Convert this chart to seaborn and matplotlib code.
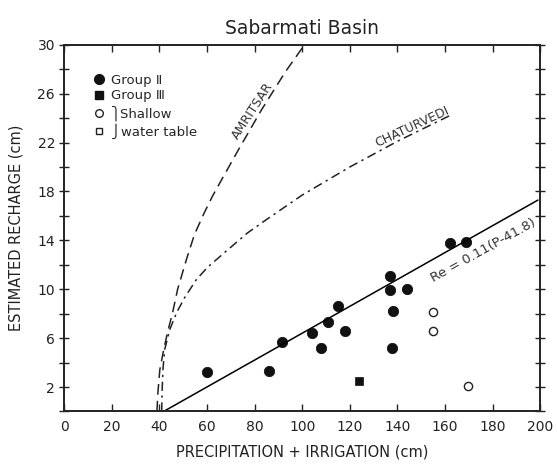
import numpy as np
import pandas as pd
import seaborn as sns
import matplotlib.pyplot as plt
from matplotlib.lines import Line2D

# ============================================================
# Data
# ============================================================

group2_x = [60, 86, 91.5, 104, 108, 111, 115, 118, 137, 136.8, 138, 137.7, 144, 162, 169]
group2_y = [3.2, 3.3, 5.7, 6.4, 5.2, 7.3, 8.6, 6.6, 11.1, 9.9, 8.2, 5.2, 10.0, 13.8, 13.9]

group3_x = [124]
group3_y = [2.5]

shallow_x = [155, 155, 169.5]
shallow_y = [8.1, 6.6, 2.1]

amritsar_x = [39.0, 39.4, 40.2, 41.8, 43.5, 45.6, 47.7, 51.5, 54.8, 59.0, 62.3, 66.0, 73.5, 83.0, 93.0, 101.0]
amritsar_y = [0.0, 1.5, 3.4, 5.0, 6.5, 8.1, 10.0, 12.5, 14.5, 16.3, 17.6, 18.9, 21.5, 24.7, 27.8, 30.0]

chaturvedi_x = [41.0, 41.2, 41.6, 42.3, 44.4, 47.3, 50.6, 55.6, 60.3, 67.4, 77.0, 85.0, 100.0, 120.0, 140.0, 163.0]
chaturvedi_y = [0.0, 1.8, 3.6, 5.1, 6.7, 8.1, 9.3, 10.8, 11.8, 13.0, 14.6, 15.7, 17.7, 20.0, 22.1, 24.3]

# regression line Re = 0.11 (P - 41.8)
reg_x = [41.8, 199]
reg_y = [0.0, 0.11 * (199 - 41.8)]

x_ticks = list(range(0, 201, 20))
y_labels = [2, 6, 10, 14, 18, 22, 26, 30]

# ============================================================
# Plot
# ============================================================

sns.set_style("ticks")
plt.rcParams['font.family'] = ['DejaVu Sans']

fig = plt.figure(figsize=(5.57, 4.66), dpi=100)
ax = fig.add_axes([0.115, 0.117, 0.855, 0.787])

sns.lineplot(x=reg_x, y=reg_y, color='black', lw=1.1, ax=ax)
sns.lineplot(x=amritsar_x, y=amritsar_y, color='#222222', lw=1.1, ax=ax,
             linestyle=(0, (7, 4)), sort=False)
sns.lineplot(x=chaturvedi_x, y=chaturvedi_y, color='#222222', lw=1.1, ax=ax,
             linestyle=(0, (6, 3, 1.5, 3)), sort=False)

sns.scatterplot(x=group2_x, y=group2_y, color='#111111', s=55, marker='o',
                edgecolor='#111111', ax=ax)
sns.scatterplot(x=group3_x, y=group3_y, color='#111111', s=40, marker='s',
                edgecolor='#111111', ax=ax)
sns.scatterplot(x=shallow_x, y=shallow_y, facecolor='white', s=35, marker='o',
                edgecolor='#222222', linewidth=1.0, ax=ax)

ax.set_xlim(0, 200)
ax.set_ylim(0, 30)
ax.set_xticks(x_ticks)
ax.set_xticklabels([str(t) for t in x_ticks])
ax.set_yticks(range(0, 31, 2))
ax.set_yticklabels(['' if t not in y_labels else str(t) for t in range(0, 31, 2)])

ax.tick_params(axis='x', direction='in', length=5, width=1, top=True,
               labelsize=10, colors='#222222', pad=6)
ax.tick_params(axis='y', direction='inout', length=7, width=1, right=True,
               labelsize=10, colors='#222222', pad=3)
for s in ax.spines.values():
    s.set_linewidth(1.4)
    s.set_color('#222222')

ax.set_xlabel("PRECIPITATION + IRRIGATION (cm)", fontsize=10.5, color='#222222', labelpad=8)
ax.set_ylabel("ESTIMATED RECHARGE (cm)", fontsize=10.5, color='#222222', labelpad=10)
ax.set_title("Sabarmati Basin", fontsize=13.5, color='#222222', pad=8)

# curve labels
ax.text(79, 24.6, "AMRITSAR", rotation=57, fontsize=9, color='#333333',
        ha='center', va='center')
ax.text(146, 23.3, "CHATURVEDI", rotation=25, fontsize=9, color='#333333',
        ha='center', va='center')
ax.text(176, 13.2, "Re = 0.11(P-41.8)", rotation=29, fontsize=9.5, color='#333333',
        ha='center', va='center')

# legend
handles = [
    Line2D([], [], marker='o', color='#111111', ls='', markersize=7),
    Line2D([], [], marker='s', color='#111111', ls='', markersize=5.5),
    Line2D([], [], marker='o', markerfacecolor='white', markeredgecolor='#222222', ls='', markersize=5.5),
    Line2D([], [], marker='s', markerfacecolor='white', markeredgecolor='#222222', ls='', markersize=5),
]
labels = ["Group Ⅱ", "Group Ⅲ", "⎫Shallow", "⎭water table"]
ax.legend(handles, labels, loc='upper left', bbox_to_anchor=(0.045, 0.935),
          frameon=False, fontsize=9.5, handletextpad=0.3, labelspacing=0.2,
          handlelength=1.2, borderaxespad=0)

fig.savefig("out.png", dpi=100)
